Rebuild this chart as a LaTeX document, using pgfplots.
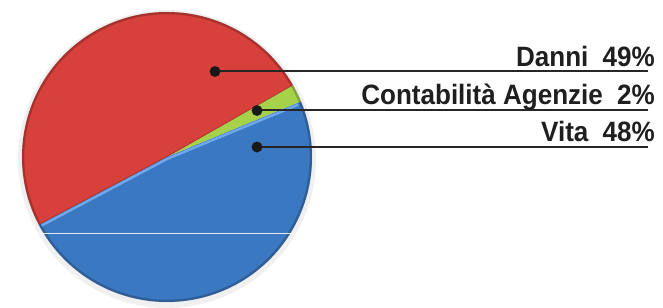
\documentclass[border=0pt]{standalone}
\usepackage{fontspec}
\setmainfont{Liberation Sans}[FakeStretch=0.93]
\usepackage{pgfplots}
\pgfplotsset{compat=1.18}
\definecolor{cRed}{HTML}{D8403B}
\definecolor{cBlue}{HTML}{3B78C2}
\definecolor{cGreen}{HTML}{A6D24A}
\definecolor{cHi}{HTML}{6FA8EC}
% data (percent)
\def\vDanni{49}
\def\vCont{2}
\def\vVita{48}
\pgfmathsetmacro\tot{\vDanni+\vCont+\vVita}
\pgfmathsetmacro\aA{22.5}
\pgfmathsetmacro\aB{\aA+\vCont/\tot*360}
\pgfmathsetmacro\aC{\aB+\vDanni/\tot*360}
\pgfmathsetmacro\aD{\aC+\vVita/\tot*360}
\def\cx{167}
\def\cy{157}
\def\rr{145}
\newcommand\gap{\ \hspace{0.25em}}
\begin{document}
\begin{tikzpicture}
\begin{axis}[x=1pt, y=1pt, xmin=0, xmax=663, ymin=0, ymax=304, y dir=reverse,
  hide axis, clip=false, scale only axis, anchor=south west, at={(0,0)}]
% soft shadow
\addplot[draw=black, opacity=0.06, line width=6pt, domain=0:360, samples=120, variable=\t]
  ({\cx+(\rr+1)*cos(t)},{\cy+2-(\rr+1)*sin(t)});
% slices
\addplot[fill=cGreen, draw=none, domain=\aA:\aB, samples=10, variable=\t]
  ({\cx+\rr*cos(t)},{\cy-\rr*sin(t)}) -- (axis cs:\cx,\cy) -- cycle;
\addplot[fill=cRed, draw=none, domain=\aB:\aC, samples=90, variable=\t]
  ({\cx+\rr*cos(t)},{\cy-\rr*sin(t)}) -- (axis cs:\cx,\cy) -- cycle;
\addplot[fill=cBlue, draw=none, domain=\aC:\aD, samples=90, variable=\t]
  ({\cx+\rr*cos(t)},{\cy-\rr*sin(t)}) -- (axis cs:\cx,\cy) -- cycle;
% highlight on blue edge
\addplot[cHi, line width=2.4pt] coordinates {({\cx+(\rr-3)*cos(\aC)},{\cy-(\rr-3)*sin(\aC)+2}) (\cx,\cy+2) ({\cx+(\rr-3)*cos(\aD)},{\cy-(\rr-3)*sin(\aD)+2})};
\addplot[cRed!70!black, line width=0.8pt, opacity=0.7] coordinates {({\cx+(\rr-2)*cos(\aC)},{\cy-(\rr-2)*sin(\aC)-0.5}) (\cx,\cy-0.5) ({\cx+(\rr-2)*cos(\aB)},{\cy-(\rr-2)*sin(\aB)})};
% rim darkening
\addplot[draw=black, opacity=0.22, line width=2.5pt, domain=0:360, samples=120, variable=\t]
  ({\cx+(\rr-1)*cos(t)},{\cy-(\rr-1)*sin(t)});
% white artifact line
\addplot[white, line width=0.7pt, opacity=0.85] coordinates {(38,233) (296,233)};
% leader lines
\addplot[black!85, line width=2pt] coordinates {(215,71.5) (648,71.5)};
\addplot[black!85, line width=2pt] coordinates {(257,110.5) (648,110.5)};
\addplot[black!85, line width=2pt] coordinates {(257,147) (648,147)};
\addplot[only marks, mark=*, mark size=5.2pt, black!90] coordinates {(215,71.5) (257,110.5) (257,147)};
% labels
\node[anchor=base east, inner sep=0pt, font=\fontsize{28}{30}\selectfont\bfseries, text=black!88] at (axis cs:655,67) {Danni\gap 49\%};
\node[anchor=base east, inner sep=0pt, font=\fontsize{28}{30}\selectfont\bfseries, text=black!88] at (axis cs:655,104.5) {Contabilità Agenzie\gap 2\%};
\node[anchor=base east, inner sep=0pt, font=\fontsize{28}{30}\selectfont\bfseries, text=black!88] at (axis cs:655,141.7) {Vita\gap 48\%};
\end{axis}
\path (0,0) rectangle (663pt,304pt);
\end{tikzpicture}
\end{document}
